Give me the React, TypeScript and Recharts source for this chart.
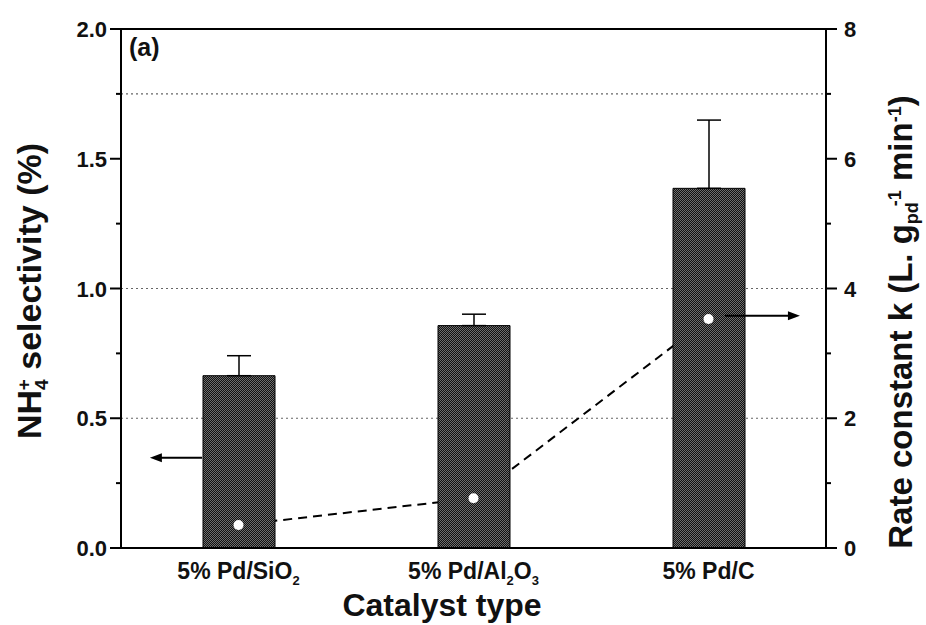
import React from 'react'
import { Bar, ComposedChart, ErrorBar, Line, ReferenceLine, XAxis, YAxis } from 'recharts'

// catalysts on the x axis, with subscript pieces for the tick labels
const categories = ['5% Pd/SiO2', '5% Pd/Al2O3', '5% Pd/C']
const tickParts: Array<Array<[string, boolean]>> = [
  [['5% Pd/SiO', false], ['2', true]],
  [['5% Pd/Al', false], ['2', true], ['O', false], ['3', true]],
  [['5% Pd/C', false]],
]

// NH4+ selectivity (%) - bars, left axis
const selectivity = [0.664, 0.857, 1.386]
const selectivityErr = [0.077, 0.044, 0.263]
// rate constant k - dashed line, right axis
const rateConstant = [0.355, 0.766, 3.53]

const leftTicks = [0, 0.25, 0.5, 0.75, 1, 1.25, 1.5, 1.75, 2]
const rightTicks = [0, 1, 2, 3, 4, 5, 6, 7, 8]
const gridLevels = [0.5, 1, 1.75]

// arrows pointing at the axis each series belongs to (x on a 0..3 category scale)
const leftArrowX = [0.345, 0.123]
const leftArrowY = 0.348
const rightArrowX = [2.57, 2.889]
const rightArrowY = 3.58

const data = categories.map((name, i) => ({
  name,
  pos: i + 0.5,
  selectivity: selectivity[i],
  err: [0, selectivityErr[i]],
  rate: rateConstant[i],
}))

const W = 926
const H = 625
const PLOT_LEFT = 121
const PLOT_RIGHT = 826
const PLOT_BOTTOM = 548
const FONT = '"Liberation Sans", Arial, sans-serif'

const LeftTick = (props: any) => {
  const { y, payload } = props
  const v = payload.value
  const major = Math.abs(v * 2 - Math.round(v * 2)) < 1e-6
  return (
    <g>
      <line x1={PLOT_LEFT - (major ? 11 : 5)} x2={PLOT_LEFT} y1={y} y2={y} stroke="#000" strokeWidth={2} />
      {major && (
        <text x={PLOT_LEFT - 14} y={y} dy={8} textAnchor="end" fontFamily={FONT} fontWeight="bold" fontSize={22} fill="#111">
          {v.toFixed(1)}
        </text>
      )}
    </g>
  )
}

const RightTick = (props: any) => {
  const { y, payload } = props
  const v = payload.value
  const major = v % 2 === 0
  return (
    <g>
      <line x1={PLOT_RIGHT} x2={PLOT_RIGHT + (major ? 11 : 5)} y1={y} y2={y} stroke="#000" strokeWidth={2} />
      {major && (
        <text x={PLOT_RIGHT + 18} y={y} dy={8} textAnchor="start" fontFamily={FONT} fontWeight="bold" fontSize={22} fill="#111">
          {v}
        </text>
      )}
    </g>
  )
}

const CatTick = (props: any) => {
  const { x, payload } = props
  const parts = tickParts[categories.indexOf(payload.value)] || [[payload.value, false]]
  return (
    <text x={x} y={PLOT_BOTTOM + 31} textAnchor="middle" fontFamily={FONT} fontWeight="bold" fontSize={23} fill="#111">
      {parts.map(([t, sub], i) =>
        sub ? (
          <tspan key={i} baselineShift="-45%" fontSize={13}>{t}</tspan>
        ) : (
          <tspan key={i}>{t}</tspan>
        )
      )}
    </text>
  )
}

const Arrow = (props: any) => {
  const { x1, y1, x2, y2 } = props
  const dir = x2 > x1 ? 1 : -1
  return (
    <g>
      <line x1={x1} y1={y1} x2={x2 - dir * 6} y2={y2} stroke="#000" strokeWidth={2} />
      <polygon points={`${x2},${y2} ${x2 - dir * 12},${y2 - 4.5} ${x2 - dir * 12},${y2 + 4.5}`} fill="#000" />
    </g>
  )
}

const RateDot = (props: any) => {
  const { cx, cy } = props
  return <circle cx={cx} cy={cy} r={5} fill="#fff" stroke="none" />
}

export default function App() {
  return (
    <div style={{ position: 'absolute', left: 0, top: 0, width: W, height: H, background: '#fff' }}>
      <style>{'body{margin:0}'}</style>
      <ComposedChart width={W} height={H} data={data} margin={{ top: 29, right: 0, left: 10, bottom: 0 }}>
        <defs>
          <pattern id="hatch" width={2} height={2} patternUnits="userSpaceOnUse">
            <rect width={2} height={2} fill="#111" />
            <rect x={0} y={0} width={1} height={1} fill="#6e6e6e" />
            <rect x={1} y={1} width={1} height={1} fill="#6e6e6e" />
          </pattern>
        </defs>
        <XAxis
          xAxisId="cat"
          dataKey="name"
          height={77}
          interval={0}
          tickLine={false}
          tick={<CatTick />}
          axisLine={{ stroke: '#000', strokeWidth: 2 }}
        />
        <XAxis xAxisId="num" dataKey="pos" type="number" domain={[0, 3]} allowDataOverflow hide />
        <YAxis
          yAxisId="left"
          width={111}
          domain={[0, 2]}
          ticks={leftTicks}
          interval={0}
          tickLine={false}
          tick={<LeftTick />}
          axisLine={{ stroke: '#000', strokeWidth: 2 }}
        />
        <YAxis
          yAxisId="right"
          orientation="right"
          width={100}
          domain={[0, 8]}
          ticks={rightTicks}
          interval={0}
          tickLine={false}
          tick={<RightTick />}
          axisLine={{ stroke: '#000', strokeWidth: 2 }}
        />
        {gridLevels.map((g) => (
          <ReferenceLine
            key={g}
            xAxisId="cat"
            yAxisId="left"
            y={g}
            stroke="#666"
            strokeWidth={1.2}
            strokeDasharray="2 3"
            zIndex={-100}
          />
        ))}
        <ReferenceLine xAxisId="cat" yAxisId="left" y={2} stroke="#000" strokeWidth={2} />
        <Line
          xAxisId="cat"
          yAxisId="right"
          dataKey="rate"
          stroke="#000"
          strokeWidth={2}
          strokeDasharray="9 6"
          dot={false}
          zIndex={250}
          isAnimationActive={false}
        />
        <Bar
          xAxisId="cat"
          yAxisId="left"
          dataKey="selectivity"
          barSize={72}
          fill="url(#hatch)"
          stroke="#000"
          strokeWidth={1}
          isAnimationActive={false}
        >
          <ErrorBar dataKey="err" width={12} stroke="#000" strokeWidth={1.5} />
        </Bar>
        <Line
          xAxisId="cat"
          yAxisId="right"
          dataKey="rate"
          stroke="none"
          dot={<RateDot />}
          activeDot={false}
          isAnimationActive={false}
        />
        <ReferenceLine
          xAxisId="num"
          yAxisId="left"
          ifOverflow="visible"
          segment={[{ x: leftArrowX[0], y: leftArrowY }, { x: leftArrowX[1], y: leftArrowY }]}
          shape={<Arrow />}
        />
        <ReferenceLine
          xAxisId="num"
          yAxisId="right"
          ifOverflow="visible"
          segment={[{ x: rightArrowX[0], y: rightArrowY }, { x: rightArrowX[1], y: rightArrowY }]}
          shape={<Arrow />}
        />
        <text x={129} y={56} fontFamily={FONT} fontWeight="bold" fontSize={25} fill="#111">(a)</text>
        <text x={442} y={616} textAnchor="middle" fontFamily={FONT} fontWeight="bold" fontSize={32} fill="#111">
          Catalyst type
        </text>
        <text transform="translate(41,291) rotate(-90)" textAnchor="middle" fontFamily={FONT} fontWeight="bold" fontSize={34} fill="#111">
          NH
          <tspan baselineShift="-35%" fontSize={19}>4</tspan>
          <tspan dx={-11} baselineShift="60%" fontSize={19}>+</tspan>
          <tspan> selectivity (%)</tspan>
        </text>
        <text transform="translate(912,322) rotate(-90)" textAnchor="middle" fontFamily={FONT} fontWeight="bold" fontSize={33} fill="#111">
          Rate constant k (L. g
          <tspan baselineShift="-35%" fontSize={18}>pd</tspan>
          <tspan dx={-4} baselineShift="60%" fontSize={18}>-1</tspan>
          <tspan> min</tspan>
          <tspan baselineShift="60%" fontSize={18}>-1</tspan>
          <tspan>)</tspan>
        </text>
      </ComposedChart>
    </div>
  )
}
